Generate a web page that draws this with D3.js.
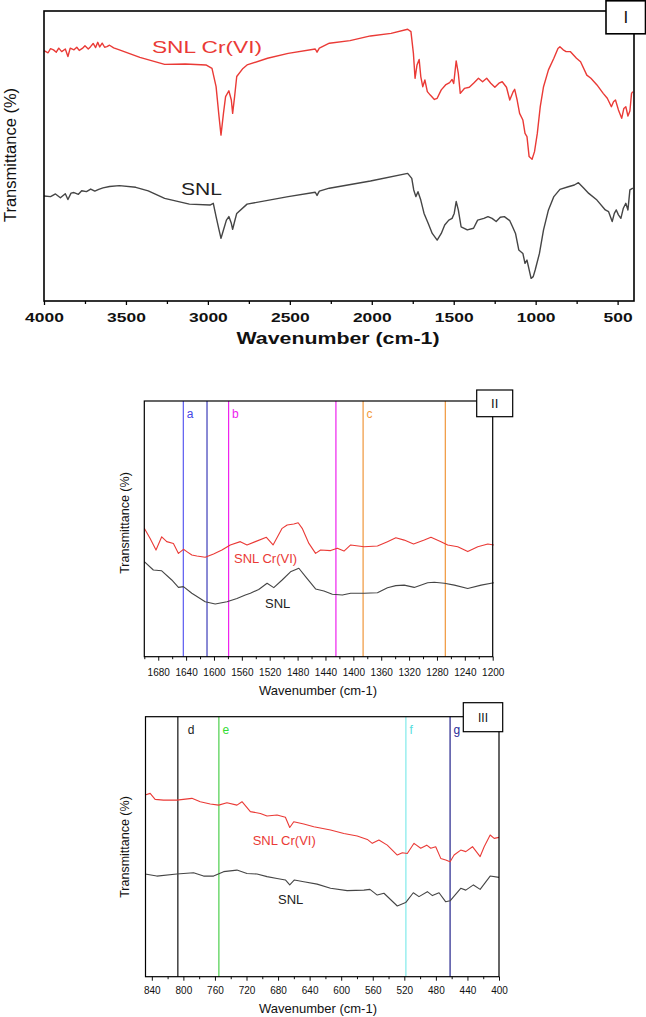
<!DOCTYPE html>
<html>
<head>
<meta charset="utf-8">
<script src="https://cdn.jsdelivr.net/npm/d3@7"></script>
<style>
  html, body { margin: 0; padding: 0; background: #fff; }
  svg { display: block; }
  text { font-family: "Liberation Sans", Arial, sans-serif; }
</style>
</head>
<body>
<svg id="chart" width="646" height="1017"></svg>
<script>
// ---------- DATA ----------
// Panel I (full spectrum)
const p1Ticks = [4000, 3500, 3000, 2500, 2000, 1500, 1000, 500];
const p1RedWn = [4000,3975,3960,3942,3925,3910,3892,3870,3854,3840,3817,3800,3785,3766,3750,3730,3716,3700,3685,3672,3660,3645,3630,3616,3600,3575,3540,3415,3264,3138,3012,2975,2950,2932,2920,2905,2892,2872,2857,2849,2837,2824,2786,2761,2636,2510,2345,2334,2320,2259,2133,2008,1882,1781,1761,1746,1736,1724,1711,1701,1689,1676,1661,1643,1618,1601,1576,1550,1525,1510,1500,1485,1472,1460,1435,1405,1379,1349,1324,1299,1274,1249,1224,1204,1178,1158,1138,1128,1113,1098,1078,1065,1053,1040,1022,1007,990,972,952,922,889,864,852,832,814,789,751,726,688,663,626,588,563,538,525,513,495,475,462,450,437,425,415,407];
const p1RedT  = [86.3,85.6,87.0,86.6,85.8,87.2,86.0,86.9,84.3,87.2,86.6,87.5,86.4,87.1,88.0,86.9,87.7,88.8,87.4,89.2,87.6,88.9,87.5,87.7,88.2,87.3,86.6,84.0,81.6,81.7,81.4,80.2,73.9,63.6,57.2,64.7,70.5,72.5,69.3,64.7,70.5,77.4,80.2,81.4,83.7,85.4,86.9,85.8,87.2,88.9,89.8,91.4,92.3,93.7,92.9,85.4,76.8,81.4,83.3,77.4,73.9,76.2,72.2,71.0,69.5,69.9,72.8,74.5,75.3,76.4,75.0,82.8,78.5,71.6,73.3,73.7,75.1,76.8,75.6,76.8,75.1,73.7,75.1,75.6,73.7,69.3,72.1,73.0,69.3,64.7,62.4,57.8,56.7,49.8,48.9,51.5,57.8,67.0,73.9,79.7,83.7,87.1,87.7,86.6,86.0,86.0,83.7,82.5,77.9,76.8,74.5,71.6,69.9,67.0,68.7,69.3,65.9,63.0,66.4,67.0,63.8,65.5,71.6,72.2];
const p1GrayWn = [4000,3960,3930,3900,3870,3854,3835,3817,3790,3770,3741,3715,3690,3666,3640,3600,3540,3440,3364,3264,3113,2987,2967,2950,2932,2920,2905,2887,2872,2857,2849,2837,2824,2761,2510,2345,2334,2320,2259,2008,1781,1756,1744,1731,1718,1701,1681,1656,1631,1601,1576,1555,1530,1510,1497,1485,1472,1455,1417,1379,1354,1316,1291,1266,1241,1216,1191,1158,1141,1123,1103,1078,1065,1053,1028,1015,1003,977,952,922,889,852,801,764,739,706,676,626,575,555,533,520,508,495,480,465,450,437,425,407];
const p1GrayT  = [36.2,36.0,36.9,35.6,37.0,35.0,37.2,37.4,36.8,38.0,37.7,38.6,37.9,38.5,39.0,39.5,39.8,39.2,38.0,35.4,33.4,33.1,33.7,29.1,24.5,21.6,24.5,27.9,29.1,26.8,24.7,27.4,30.2,33.4,36.0,37.5,36.4,37.9,38.9,41.4,44.0,42.3,38.3,36.0,37.7,34.8,30.2,26.8,23.3,21.0,23.3,26.2,27.9,28.5,30.2,34.3,31.4,25.6,24.5,25.1,27.9,28.5,29.1,28.5,27.4,28.9,29.1,27.7,25.6,23.3,17.6,16.4,13.0,14.1,7.8,8.4,10.7,16.4,24.5,31.4,36.0,38.5,39.4,40.0,40.8,38.9,37.1,34.8,31.4,30.8,27.4,30.2,31.4,29.7,28.5,32.0,33.7,31.4,38.3,38.9];

// Panel II (1700 - 1200 cm-1)
const p2Ticks = [1680,1640,1600,1560,1520,1480,1440,1400,1360,1320,1280,1240,1200];
const p2RedWn = [1700,1691.8,1683.2,1675,1667.8,1658.2,1651,1643.8,1639,1631.8,1624.6,1612.6,1600.6,1588.6,1576.6,1562.2,1552.6,1540.6,1524.8,1515.2,1502.2,1495,1485.4,1479.2,1473.4,1463.8,1454.2,1447,1432.6,1423,1413.4,1403.8,1384.6,1365.4,1351,1339,1327,1313.6,1298.2,1288.6,1274.2,1264.6,1250.2,1235.8,1221.4,1207,1198.4];
const p2RedT  = [50.2,46.3,41.7,46.9,45.0,44.3,40.4,42.0,41.1,39.8,39.4,38.9,40.2,41.7,43.7,45.0,43.7,45.0,46.7,43.7,50.2,51.5,51.9,52.4,50.2,44.3,40.4,41.7,41.5,42.4,41.3,43.7,43.0,43.3,45.0,46.5,45.6,44.1,45.6,46.7,45.0,43.7,43.0,41.1,43.0,44.1,43.7];
const p2GrayWn = [1700,1687,1675,1660.6,1651,1643.8,1631.8,1612.6,1598.2,1581.4,1567,1555,1547.8,1535.8,1523.8,1514.2,1502.2,1490.2,1478.2,1468.6,1454.2,1442.2,1430.2,1415.8,1403.8,1384.6,1365.4,1351,1339,1327,1312.6,1293.4,1283.8,1269.4,1255,1235.8,1216.6,1198.4];
const p2GrayT  = [37.2,33.9,33.6,30.0,27.1,27.4,24.8,21.5,20.6,21.5,22.8,24.1,24.8,26.3,28.7,27.0,30.0,33.2,34.6,31.3,26.5,25.7,24.4,24.1,24.8,24.8,25.0,27.0,27.8,28.0,27.1,28.9,29.1,28.7,28.0,26.7,28.0,28.9];
const p2Marks = [1644, 1610, 1579, 1425, 1386, 1268];
const p2MarkGroups = ["a", "a", "b", "b", "c", "c"];
const p2Labels = ["a", "b", "c"];

// Panel III (850 - 400 cm-1)
const p3Ticks = [840,800,760,720,680,640,600,560,520,480,440,400];
const p3RedWn = [848.5,842.1,835.8,825.2,808.3,789.2,778.6,765.9,755.3,744.8,732.1,725.7,715.1,702.4,694,681.3,670.7,665.2,660.1,647.4,634.7,613.5,596.6,579.7,566.9,560.6,552.2,541.6,528.9,522.5,516.2,507.7,499.2,491.6,486.5,480.2,473.8,467.5,462,456.9,448.5,442.1,433.6,423.9,418.8,411.2,406.1,400];
const p3RedT  = [69.9,70.5,68.2,67.9,67.9,68.6,67.3,66.4,66.0,66.9,66.0,67.3,63.5,62.8,61.8,62.2,61.3,57.4,59.6,58.7,57.7,56.4,55.1,54.1,52.8,51.3,52.6,50.6,46.8,47.7,47.4,51.3,49.4,50.6,49.4,50.0,45.5,44.9,44.2,46.8,48.7,48.1,50.0,46.2,50.0,54.5,53.2,53.6];
const p3GrayWn = [848.5,833.7,808.3,787.1,774.4,761.7,749,732.1,719.4,706.7,694,681.3,670.7,665.2,659.3,647.4,630.5,613.5,592.4,571.2,563.6,554.3,545.8,528.9,518.3,508.6,501.4,490.8,484.4,476,467.5,462,448.5,442.1,432.4,423.9,411.2,400];
const p3GrayT  = [39.5,38.7,39.5,40.0,38.7,38.7,40.4,41.0,39.7,39.5,38.5,37.8,37.2,35.3,37.2,36.5,35.6,34.0,33.1,33.3,33.6,31.4,32.1,27.2,28.5,32.3,30.8,32.7,31.2,32.3,28.8,29.2,34.0,33.3,35.3,33.6,38.7,38.2];
const p3Marks = [807, 755, 518, 462];
const p3Labels = ["d", "e", "f", "g"];

const seriesNames = ["SNL Cr(VI)", "SNL"];

// ---------- DRAWING ----------
const svg = d3.select("#chart");
const RED = "#ea3a36", GRAY = "#454545";

function panel(cfg) {
  const x = d3.scaleLinear().domain(cfg.domain).range([cfg.left, cfg.right]);
  const y = d3.scaleLinear().domain([0, 100]).range([cfg.bottom, cfg.top]);
  const g = svg.append("g");

  if (cfg.marks) {
    g.selectAll("line.mark").data(cfg.marks).join("line")
      .attr("x1", d => x(d)).attr("x2", d => x(d))
      .attr("y1", cfg.top).attr("y2", cfg.bottom)
      .attr("stroke", (d, i) => cfg.markColors[i]).attr("stroke-width", 1.2);
  }

  const line = d3.line().x(d => x(d[0])).y(d => y(d[1]));
  cfg.curves.forEach(c => {
    g.append("path").datum(d3.zip(c.wn, c.t))
      .attr("d", line).attr("fill", "none")
      .attr("stroke", c.color).attr("stroke-width", cfg.curveWidth)
      .attr("stroke-linejoin", "round");
  });

  g.append("rect").attr("x", cfg.left).attr("y", cfg.top)
    .attr("width", cfg.right - cfg.left).attr("height", cfg.bottom - cfg.top)
    .attr("fill", "none").attr("stroke", "#000").attr("stroke-width", cfg.frameWidth);

  const minor = d3.range(cfg.minorStart, cfg.minorEnd - 1e-6, -cfg.minorStep);
  const mAx = g.append("g").attr("transform", `translate(0,${cfg.bottom})`)
    .call(d3.axisBottom(x).tickValues(minor).tickSize(cfg.minorLen).tickSizeOuter(0).tickFormat(""));
  mAx.select(".domain").remove();
  mAx.selectAll("line").attr("stroke-width", cfg.frameWidth * 0.8);

  const ax = g.append("g").attr("transform", `translate(0,${cfg.bottom})`)
    .call(d3.axisBottom(x).tickValues(cfg.ticks).tickSize(cfg.majorLen).tickSizeOuter(0).tickFormat(d3.format("d")));
  ax.select(".domain").remove();
  ax.selectAll("line").attr("stroke-width", cfg.frameWidth * 0.8);
  ax.selectAll("text")
    .attr("y", cfg.tickLabelY).attr("dy", null)
    .attr("fill", "#111")
    .style("font-size", cfg.tickFont + "px")
    .style("font-weight", cfg.tickWeight || "normal")
    .style("font-family", '"Liberation Sans", Arial, sans-serif');
  if (cfg.tickStretch) {
    ax.selectAll("text").attr("textLength", d => String(d).length * cfg.tickStretch)
      .attr("lengthAdjust", "spacingAndGlyphs");
  }

  const xt = g.append("text").attr("x", cfg.xTitleX).attr("y", cfg.xTitleY)
    .attr("text-anchor", "middle").style("font-size", cfg.xTitleFont + "px")
    .style("font-weight", cfg.xTitleWeight || "normal").attr("fill", "#111")
    .text("Wavenumber (cm-1)");
  if (cfg.xTitleLen) xt.attr("textLength", cfg.xTitleLen).attr("lengthAdjust", "spacingAndGlyphs");
  g.append("text").attr("transform", `translate(${cfg.yTitleX},${cfg.yTitleY}) rotate(-90)`)
    .attr("text-anchor", "middle").style("font-size", cfg.yTitleFont + "px").attr("fill", "#111")
    .text("Transmittance (%)");

  cfg.seriesLabels.forEach(s => {
    const t = g.append("text").attr("x", s.x).attr("y", s.y).attr("fill", s.color)
      .style("font-size", s.font + "px").text(s.text);
    if (s.len) t.attr("textLength", s.len).attr("lengthAdjust", "spacingAndGlyphs");
  });

  if (cfg.peakLabels) {
    cfg.peakLabels.forEach(p => {
      g.append("text").attr("x", p.x).attr("y", p.y).attr("fill", p.color)
        .style("font-size", "12px").text(p.text);
    });
  }

  const b = cfg.box;
  g.append("rect").attr("x", b.x).attr("y", b.y).attr("width", b.w).attr("height", b.h)
    .attr("fill", "#fff").attr("stroke", "#000").attr("stroke-width", cfg.frameWidth);
  g.append("text").attr("x", b.x + b.w / 2).attr("y", b.y + b.h / 2)
    .attr("dy", "0.36em").attr("text-anchor", "middle")
    .style("font-size", b.font + "px").attr("fill", "#111").text(b.text);
  return x;
}

// Panel I
panel({
  domain: [4000, 400], left: 44, right: 634, top: 11, bottom: 301,
  curves: [
    { wn: p1RedWn, t: p1RedT, color: RED },
    { wn: p1GrayWn, t: p1GrayT, color: GRAY }
  ],
  curveWidth: 1.4, frameWidth: 1.6,
  ticks: p1Ticks, minorStart: 3750, minorEnd: 400, minorStep: 500,
  majorLen: 4, minorLen: 3,
  tickLabelY: 21, tickFont: 12.5, tickWeight: "bold", tickStretch: 9.7,
  xTitleX: 338, xTitleY: 344, xTitleFont: 16, xTitleWeight: "bold", xTitleLen: 203,
  yTitleX: 16, yTitleY: 155, yTitleFont: 16.5,
  seriesLabels: [
    { text: seriesNames[0], x: 152, y: 52.5, color: RED, font: 16.5, len: 110 },
    { text: seriesNames[1], x: 181, y: 195, color: "#222", font: 16.5, len: 41 }
  ],
  box: { x: 606, y: 0.8, w: 39.5, h: 33, text: "I", font: 17 }
});

// Panel II
const p2Colors = { a: "#4646e6", b: "#ee22ee", c: "#f39a3a" };
const p2LineColors = ["#5a5af0", "#3c3cb8", "#ee22ee", "#ee22ee", "#f0963a", "#f0963a"];
const x2 = d3.scaleLinear().domain([1700, 1200]).range([144.3, 492.7]);
panel({
  domain: [1700, 1200], left: 144.3, right: 492.7, top: 401, bottom: 656.7,
  marks: p2Marks, markColors: p2LineColors,
  curves: [
    { wn: p2RedWn, t: p2RedT, color: RED },
    { wn: p2GrayWn, t: p2GrayT, color: GRAY }
  ],
  curveWidth: 1.1, frameWidth: 1.2,
  ticks: p2Ticks, minorStart: 1700, minorEnd: 1200, minorStep: 40,
  majorLen: 4, minorLen: 2.5,
  tickLabelY: 19, tickFont: 10,
  xTitleX: 318, xTitleY: 694.5, xTitleFont: 13,
  yTitleX: 129, yTitleY: 523, yTitleFont: 12.5,
  seriesLabels: [
    { text: seriesNames[0], x: 234, y: 562.5, color: RED, font: 13 },
    { text: seriesNames[1], x: 265, y: 607.5, color: "#222", font: 13 }
  ],
  peakLabels: p2Labels.map((l, i) => {
    const idx = p2MarkGroups.indexOf(l);
    return { text: l, x: x2(p2Marks[idx]) + 3.5, y: 417.5, color: p2Colors[l] };
  }),
  box: { x: 476.7, y: 390, w: 36, h: 26.7, text: "II", font: 13 }
});

// Panel III
const p3LineColors = ["#111111", "#4ccf4c", "#80eaea", "#22228a"];
const p3TextColors = ["#222222", "#33dd33", "#55dddd", "#2a2a99"];
const x3 = d3.scaleLinear().domain([848, 400]).range([145.5, 499]);
panel({
  domain: [848, 400], left: 145.5, right: 499, top: 716.7, bottom: 976.7,
  marks: p3Marks, markColors: p3LineColors,
  curves: [
    { wn: p3RedWn, t: p3RedT, color: RED },
    { wn: p3GrayWn, t: p3GrayT, color: GRAY }
  ],
  curveWidth: 1.1, frameWidth: 1.2,
  ticks: p3Ticks, minorStart: 820, minorEnd: 400, minorStep: 40,
  majorLen: 4, minorLen: 2.5,
  tickLabelY: 17, tickFont: 10,
  xTitleX: 318, xTitleY: 1012.5, xTitleFont: 13,
  yTitleX: 129, yTitleY: 847, yTitleFont: 12.5,
  seriesLabels: [
    { text: seriesNames[0], x: 252.7, y: 844.5, color: RED, font: 13 },
    { text: seriesNames[1], x: 278, y: 903.5, color: "#222", font: 13 }
  ],
  peakLabels: p3Labels.map((l, i) => ({ text: l, x: x3(p3Marks[i]) + (i === 0 ? 10 : 3.5), y: 734, color: p3TextColors[i] })),
  box: { x: 463.3, y: 702.7, w: 39.4, h: 29, text: "III", font: 12 }
});
</script>
</body>
</html>
